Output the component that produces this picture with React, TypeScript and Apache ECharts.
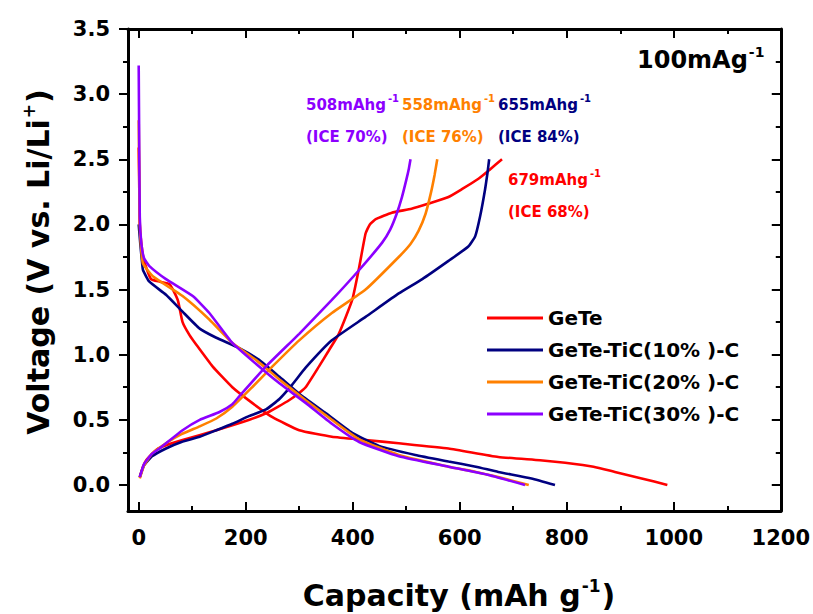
import React, { useEffect, useRef } from "react";
import * as echarts from "echarts";

const FONT = "DejaVu Sans";

const seriesNames = ["GeTe", "GeTe-TiC(10% )-C", "GeTe-TiC(20% )-C", "GeTe-TiC(30% )-C"];
const seriesColors = ["#ff0000", "#000080", "#ff8000", "#8c00ff"];

const xTicks = [0, 200, 400, 600, 800, 1000, 1200];
const xMinorTicks = [100, 300, 500, 700, 900, 1100];
const yTicks = [0, 0.5, 1.0, 1.5, 2.0, 2.5, 3.0, 3.5];
const yMinorTicks = [0.25, 0.75, 1.25, 1.75, 2.25, 2.75, 3.25];

// GeTe
const geteDischarge = [
  [0, 2.59], [1, 2.3], [2, 2.0], [5, 1.85], [10, 1.72], [23, 1.58], [40, 1.56], [58, 1.54],
  [73, 1.42], [82, 1.25], [95, 1.15], [107, 1.08], [138, 0.91], [175, 0.75], [212, 0.63],
  [250, 0.52], [300, 0.42], [361, 0.37], [424, 0.345], [486, 0.32], [579, 0.28], [672, 0.215],
  [750, 0.19], [797, 0.17], [850, 0.14], [890, 0.1], [940, 0.05], [988, 0.0],
];
const geteCharge = [
  [2, 0.06], [8, 0.14], [14, 0.19], [33, 0.27], [55, 0.31], [82, 0.345], [145, 0.42], [207, 0.5],
  [238, 0.55], [260, 0.6], [281, 0.65], [298, 0.7], [312, 0.75], [337, 0.91], [355, 1.03],
  [374, 1.16], [399, 1.42], [412, 1.67], [424, 1.93], [432, 2.0], [443, 2.04], [473, 2.09],
  [510, 2.12], [542, 2.16], [579, 2.21], [604, 2.27], [635, 2.35], [656, 2.42], [679, 2.5],
];
// GeTe-TiC(10%)-C
const tic10Discharge = [
  [0, 2.0], [3, 1.85], [6, 1.72], [8, 1.65], [20, 1.56], [51, 1.46], [82, 1.33], [114, 1.2],
  [145, 1.13], [188, 1.05], [225, 0.96], [263, 0.83], [300, 0.7], [350, 0.55], [399, 0.4],
  [449, 0.3], [517, 0.23], [579, 0.18], [630, 0.14], [672, 0.1], [734, 0.05], [778, 0.0],
];
const tic10Charge = [
  [2, 0.06], [10, 0.15], [25, 0.22], [51, 0.28], [80, 0.33], [114, 0.37], [145, 0.42],
  [175, 0.47], [207, 0.53], [238, 0.58], [263, 0.66], [287, 0.77], [312, 0.9], [361, 1.11],
  [424, 1.29], [486, 1.47], [530, 1.58], [579, 1.72], [616, 1.83], [629, 1.91], [638, 2.06],
  [647, 2.26], [652, 2.4], [655, 2.5],
];
// GeTe-TiC(20%)-C
const tic20Discharge = [
  [0, 2.8], [1, 2.4], [2, 2.0], [4, 1.85], [8, 1.7], [27, 1.6], [82, 1.45], [132, 1.27],
  [175, 1.09], [219, 0.96], [263, 0.81], [312, 0.65], [361, 0.5], [412, 0.35], [486, 0.23],
  [579, 0.14], [630, 0.1], [672, 0.06], [729, 0.0],
];
const tic20Charge = [
  [2, 0.05], [10, 0.15], [25, 0.24], [51, 0.32], [80, 0.39], [114, 0.45], [145, 0.51],
  [175, 0.6], [212, 0.75], [250, 0.91], [300, 1.11], [361, 1.32], [424, 1.5], [486, 1.75],
  [508, 1.85], [523, 1.95], [536, 2.08], [546, 2.24], [553, 2.38], [558, 2.5],
];
// GeTe-TiC(30%)-C
const tic30Discharge = [
  [0, 3.22], [1, 2.6], [2, 2.06], [5, 1.85], [10, 1.74], [20, 1.68], [51, 1.58], [101, 1.45],
  [132, 1.32], [175, 1.09], [219, 0.93], [263, 0.78], [312, 0.63], [361, 0.47], [412, 0.33],
  [486, 0.22], [579, 0.14], [650, 0.08], [722, 0.0],
];
const tic30Charge = [
  [2, 0.06], [10, 0.16], [25, 0.24], [39, 0.28], [82, 0.42], [114, 0.5], [151, 0.56],
  [175, 0.62], [188, 0.68], [238, 0.91], [300, 1.16], [361, 1.42], [412, 1.65], [455, 1.86],
  [470, 1.96], [482, 2.08], [492, 2.21], [500, 2.34], [505, 2.43], [508, 2.5],
];

const curves = [
  [geteDischarge, geteCharge],
  [tic10Discharge, tic10Charge],
  [tic20Discharge, tic20Charge],
  [tic30Discharge, tic30Charge],
];

const capacityLabels = ["679mAhg", "655mAhg", "558mAhg", "508mAhg"];
const iceLabels = ["(ICE 68%)", "(ICE 84%)", "(ICE 76%)", "(ICE 70%)"];

export default function App() {
  const ref = useRef<HTMLDivElement>(null);

  useEffect(() => {
    if (!ref.current) return;
    const chart = echarts.init(ref.current, undefined, { renderer: "svg" });

    const axisLineStyle = { color: "#000", width: 3 };
    const tickStyle = { color: "#000", width: 2 };

    const xAxisBase = {
      type: "value" as const,
      min: -20,
      max: 1200,
      gridIndex: 0,
      offset: 0,
      splitLine: { show: false },
    };
    const yAxisBase = {
      type: "value" as const,
      min: -0.2,
      max: 3.5,
      gridIndex: 0,
      offset: 0,
      splitLine: { show: false },
    };

    const series: any[] = [];
    curves.forEach((pair, i) => {
      pair.forEach((data) => {
        series.push({
          name: seriesNames[i],
          type: "line",
          data,
          xAxisIndex: 0,
          yAxisIndex: 0,
          showSymbol: false,
          symbol: "none",
          smooth: 0.15,
          lineStyle: { color: seriesColors[i], width: 2.6 },
          itemStyle: { color: seriesColors[i] },
          z: 2 + i,
        });
      });
    });

    const labelPos = [
      { x: 508, y1: 178, y2: 212 },
      { x: 498, y1: 103, y2: 137 },
      { x: 402, y1: 103, y2: 137 },
      { x: 306, y1: 103, y2: 137 },
    ];

    const annText: any[] = [];
    labelPos.forEach((p, i) => {
      annText.push({
        type: "text",
        x: p.x,
        y: p.y1,
        style: {
          text: `{a|${capacityLabels[i]}}{s|-1}`,
          verticalAlign: "middle",
          rich: {
            a: { fontSize: 15, fontWeight: "bold", fontFamily: FONT, fill: seriesColors[i], verticalAlign: "bottom" },
            s: { fontSize: 10, fontWeight: "bold", fontFamily: FONT, fill: seriesColors[i], padding: [0, 0, 9, 2] },
          },
        },
      });
      annText.push({
        type: "text",
        x: p.x,
        y: p.y2,
        style: {
          text: iceLabels[i],
          fontSize: 15,
          fontWeight: "bold",
          fontFamily: FONT,
          fill: seriesColors[i],
          verticalAlign: "middle",
        },
      });
    });

    const noZero = { onZero: false };

    chart.setOption({
      animation: false,
      backgroundColor: "#fff",
      grid: { left: 128, right: 31, top: 29, bottom: 103, containLabel: false },
      legend: {
        orient: "vertical",
        left: 487,
        top: 308,
        padding: 0,
        icon: "rect",
        itemWidth: 56,
        itemHeight: 3,
        itemGap: 12,
        data: seriesNames,
        textStyle: { fontSize: 20, fontWeight: "bold", fontFamily: FONT, color: "#000", lineHeight: 20 },
      },
      xAxis: [
        {
          ...xAxisBase,
          position: "bottom",
          axisLine: { show: true, ...noZero, lineStyle: axisLineStyle },
          axisTick: { show: true, inside: true, length: 9, lineStyle: tickStyle, customValues: xTicks },
          axisLabel: {
            show: true,
            customValues: xTicks,
            formatter: (v: number) => String(v),
            margin: 16,
            fontSize: 21,
            fontWeight: "bold",
            fontFamily: FONT,
            color: "#000",
          },
        },
        {
          ...xAxisBase,
          position: "bottom",
          axisLine: { show: false, ...noZero },
          axisTick: { show: true, inside: true, length: 5, lineStyle: tickStyle, customValues: xMinorTicks },
          axisLabel: { show: false },
        },
        {
          ...xAxisBase,
          position: "top",
          axisLine: { show: true, ...noZero, lineStyle: axisLineStyle },
          axisTick: { show: true, inside: true, length: 9, lineStyle: tickStyle, customValues: xTicks },
          axisLabel: { show: false },
        },
        {
          ...xAxisBase,
          position: "top",
          axisLine: { show: false, ...noZero },
          axisTick: { show: true, inside: true, length: 5, lineStyle: tickStyle, customValues: xMinorTicks },
          axisLabel: { show: false },
        },
      ],
      yAxis: [
        {
          ...yAxisBase,
          position: "left",
          axisLine: { show: true, ...noZero, lineStyle: axisLineStyle },
          axisTick: { show: true, inside: false, length: 9, lineStyle: tickStyle, customValues: yTicks },
          axisLabel: {
            show: true,
            customValues: yTicks,
            formatter: (v: number) => v.toFixed(1),
            margin: 18,
            fontSize: 21,
            fontWeight: "bold",
            fontFamily: FONT,
            color: "#000",
          },
        },
        {
          ...yAxisBase,
          position: "left",
          axisLine: { show: false, ...noZero },
          axisTick: { show: true, inside: false, length: 5, lineStyle: tickStyle, customValues: yMinorTicks },
          axisLabel: { show: false },
        },
        {
          ...yAxisBase,
          position: "right",
          axisLine: { show: true, ...noZero, lineStyle: axisLineStyle },
          axisTick: { show: true, inside: true, length: 9, lineStyle: tickStyle, customValues: yTicks },
          axisLabel: { show: false },
        },
        {
          ...yAxisBase,
          position: "right",
          axisLine: { show: false, ...noZero },
          axisTick: { show: true, inside: true, length: 5, lineStyle: tickStyle, customValues: yMinorTicks },
          axisLabel: { show: false },
        },
      ],
      series,
      graphic: [
        {
          type: "text",
          x: 459,
          y: 594,
          style: {
            text: "{a|Capacity (mAh g}{s|-1}{a|)}",
            align: "center",
            verticalAlign: "middle",
            rich: {
              a: { fontSize: 30, fontWeight: "bold", fontFamily: FONT, fill: "#000", verticalAlign: "bottom" },
              s: { fontSize: 17, fontWeight: "bold", fontFamily: FONT, fill: "#000", padding: [0, 1, 16, 1] },
            },
          },
        },
        {
          type: "text",
          x: 37,
          y: 262,
          rotation: Math.PI / 2,
          style: {
            text: "{a|Voltage (V vs. Li/Li}{s|+}{a|)}",
            align: "center",
            verticalAlign: "middle",
            rich: {
              a: { fontSize: 30, fontWeight: "bold", fontFamily: FONT, fill: "#000", verticalAlign: "bottom" },
              s: { fontSize: 17, fontWeight: "bold", fontFamily: FONT, fill: "#000", padding: [0, 1, 16, 1] },
            },
          },
        },
        {
          type: "text",
          x: 637,
          y: 58,
          style: {
            text: "{a|100mAg}{s|-1}",
            verticalAlign: "middle",
            rich: {
              a: { fontSize: 24, fontWeight: "bold", fontFamily: FONT, fill: "#000", verticalAlign: "bottom" },
              s: { fontSize: 14, fontWeight: "bold", fontFamily: FONT, fill: "#000", padding: [0, 0, 13, 1] },
            },
          },
        },
        ...annText,
      ],
    });

    return () => chart.dispose();
  }, []);

  return (
    <div
      ref={ref}
      style={{ position: "absolute", left: 0, top: 0, width: 813, height: 614 }}
    />
  );
}
